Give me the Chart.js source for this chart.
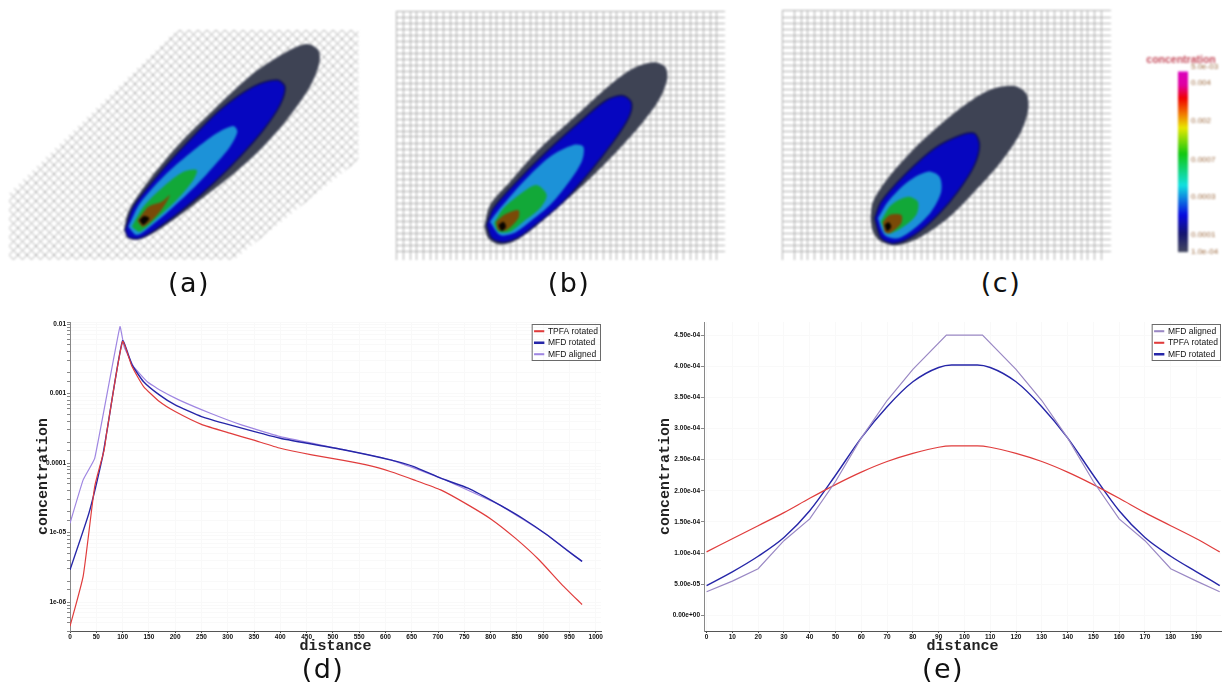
<!DOCTYPE html>
<html>
<head>
<meta charset="utf-8">
<title>concentration</title>
<script src="https://cdn.jsdelivr.net/npm/chart.js@4/dist/chart.umd.js"></script>
<style>
  html, body { margin: 0; background: #fff; overflow: hidden; }
  canvas { position: absolute; filter: blur(1px); }
  #lineD, #lineE { filter: blur(0.55px); }
  .cap { position: absolute; width: 80px; text-align: center; font: 27px "DejaVu Sans", sans-serif; letter-spacing: 1.5px; color: #111; }
</style>
</head>
<body>
<canvas id="plumeA" width="380" height="240" style="left:0;top:30px"></canvas>
<canvas id="plumeB" width="329" height="249" style="left:396px;top:11px"></canvas>
<canvas id="plumeC" width="329" height="250" style="left:782px;top:10px"></canvas>
<canvas id="colorBar" width="82" height="210" style="left:1140px;top:50px"></canvas>
<canvas id="lineD" width="610" height="345" style="left:0;top:310px"></canvas>
<canvas id="lineE" width="612" height="345" style="left:610px;top:310px"></canvas>
<div class="cap" style="left:149px;top:267px">(a)</div>
<div class="cap" style="left:529px;top:267px">(b)</div>
<div class="cap" style="left:961px;top:267px">(c)</div>
<div class="cap" style="left:283px;top:653px">(d)</div>
<div class="cap" style="left:903px;top:653px">(e)</div>
<script>
// panel (d), distance along the plume axis
const distD = [0, 25, 47, 65, 70, 100, 118, 140, 170, 200, 250, 304, 348, 400, 460, 520, 572, 609, 654, 705, 757, 803, 847, 892, 936, 974];
const tpfaD = [4.47e-7, 2.34e-6, 4.6e-5, 1.55e-4, 2.8e-4, 5.6e-3, 2.44e-3, 1.26e-3, 7.66e-4, 5.5e-4, 3.6e-4, 2.69e-4, 2.15e-4, 1.63e-4, 1.31e-4, 1.09e-4, 9.1e-5, 7.55e-5, 5.73e-5, 4.11e-5, 2.5e-5, 1.52e-5, 8.3e-6, 4.06e-6, 1.77e-6, 9.2e-7];
const rotDistD = [0, 36, 62, 70, 100, 118, 140, 170, 200, 250, 304, 400, 520, 609, 654, 705, 757, 817, 862, 907, 944, 974];
const rotatedD = [2.9e-6, 1.9e-5, 1.24e-4, 2.8e-4, 5.75e-3, 2.58e-3, 1.48e-3, 9.55e-4, 6.85e-4, 4.66e-4, 3.54e-4, 2.27e-4, 1.55e-4, 1.11e-4, 8.9e-5, 6.05e-5, 4.35e-5, 2.5e-5, 1.58e-5, 9.3e-6, 5.65e-6, 3.84e-6];
const alignDistD = [0, 25, 47, 95, 103, 121, 147, 170, 207, 267, 326, 400, 520, 609, 705, 817, 907, 974];
const alignedD = [1.36e-5, 5.73e-5, 1.17e-4, 9.2e-3, 4.7e-3, 2.44e-3, 1.48e-3, 1.13e-3, 8.1e-4, 5.2e-4, 3.54e-4, 2.4e-4, 1.56e-4, 1.12e-4, 6.1e-5, 2.5e-5, 9.3e-6, 3.84e-6];
const xTicksD = [0, 50, 100, 150, 200, 250, 300, 350, 400, 450, 500, 550, 600, 650, 700, 750, 800, 850, 900, 950, 1000];
const yLabelsD = { 1e-2: "0.01", 1e-3: "0.001", 1e-4: "0.0001", 1e-5: "1e-05", 1e-6: "1e-06" };

// panel (e), distance across the plume
const distE = [0, 10, 20, 30, 40, 50, 60, 70, 80, 90, 95, 105, 110, 120, 130, 140, 150, 160, 170, 180, 190, 199];
const tpfaE = [1.02e-4, 1.23e-4, 1.44e-4, 1.65e-4, 1.88e-4, 2.1e-4, 2.3e-4, 2.47e-4, 2.6e-4, 2.7e-4, 2.72e-4, 2.72e-4, 2.7e-4, 2.6e-4, 2.47e-4, 2.3e-4, 2.1e-4, 1.88e-4, 1.65e-4, 1.44e-4, 1.23e-4, 1.02e-4];
const rotatedE = [4.8e-5, 7.0e-5, 9.5e-5, 1.25e-4, 1.68e-4, 2.25e-4, 2.85e-4, 3.35e-4, 3.75e-4, 3.98e-4, 4.02e-4, 4.02e-4, 3.98e-4, 3.75e-4, 3.35e-4, 2.85e-4, 2.25e-4, 1.68e-4, 1.25e-4, 9.5e-5, 7.0e-5, 4.8e-5];
const alignDistE = [0, 10, 20, 30, 40, 50, 60, 70, 80, 93, 107, 120, 130, 140, 150, 160, 170, 180, 190, 199];
const alignedE = [3.8e-5, 5.5e-5, 7.5e-5, 1.2e-4, 1.55e-4, 2.15e-4, 2.85e-4, 3.45e-4, 3.95e-4, 4.5e-4, 4.5e-4, 3.95e-4, 3.45e-4, 2.85e-4, 2.15e-4, 1.55e-4, 1.2e-4, 7.5e-5, 5.5e-5, 3.8e-5];
const xTicksE = [0, 10, 20, 30, 40, 50, 60, 70, 80, 90, 100, 110, 120, 130, 140, 150, 160, 170, 180, 190];
const yTicksE = [0, 5e-5, 1e-4, 1.5e-4, 2e-4, 2.5e-4, 3e-4, 3.5e-4, 4e-4, 4.5e-4];
const yLabelsE = ["0.00e+00", "5.00e-05", "1.00e-04", "1.50e-04", "2.00e-04", "2.50e-04", "3.00e-04", "3.50e-04", "4.00e-04", "4.50e-04"];

// colour bar
const barLevels = [0, 15, 51, 88, 123, 159, 175];
const barLabels = ["5.0e-03", "0.004", "0.002", "0.0007", "0.0003", "0.0001", "1.0e-04"];
const barStops = [0, 0.1, 0.17, 0.26, 0.33, 0.47, 0.64, 0.8, 0.9, 1];
const barColors = ["#d800c8", "#e000a0", "#f00000", "#f08000", "#e8e800", "#10c810", "#10e0e0", "#0808e0", "#141470", "#444860"];

// contour outlines, innermost first, in units of the panel's own image frame
const plumeColors = ["#080400", "#7a4a08", "#12a838", "#1c92d8", "#0606c0", "#3e4354"];
const meshA = [[28, 490], [530, 0], [1075, 0], [1075, 390], [700, 690], [28, 690]];
const coreA = [[418, 570], [432, 558], [448, 565], [430, 585]];
const hotA = [[412, 572], [445, 530], [485, 515], [510, 495], [480, 545], [430, 590]];
const greenA = [[395, 590], [430, 530], [490, 470], [550, 425], [590, 420], [580, 450], [530, 510], [470, 565], [420, 605]];
const cyanA = [[385, 590], [420, 520], [490, 440], [570, 370], [650, 310], [700, 288], [712, 305], [690, 350], [640, 410], [580, 475], [510, 540], [450, 590], [410, 615]];
const blueA = [[375, 600], [400, 530], [470, 440], [560, 340], [660, 240], [760, 170], [830, 150], [855, 170], [840, 225], [790, 300], [720, 380], [640, 460], [560, 530], [480, 590], [420, 625], [385, 622]];
const outerA = [[372, 600], [385, 545], [440, 460], [530, 350], [640, 240], [760, 130], [860, 65], [920, 42], [955, 60], [958, 100], [930, 170], [860, 270], [780, 360], [690, 440], [600, 510], [520, 570], [440, 620], [395, 628]];

const coreB = [[325, 660], [340, 650], [348, 665], [335, 678]];
const hotB = [[318, 650], [345, 628], [385, 615], [385, 640], [350, 675], [325, 675]];
const greenB = [[312, 655], [340, 610], [400, 560], [440, 540], [470, 570], [450, 610], [400, 650], [360, 680], [325, 680]];
const cyanB = [[300, 650], [330, 610], [400, 530], [480, 455], [550, 420], [580, 425], [575, 470], [530, 540], [480, 600], [420, 650], [370, 685], [330, 690]];
const blueB = [[290, 660], [310, 610], [380, 530], [470, 440], [570, 350], [650, 285], [700, 272], [725, 295], [715, 340], [670, 410], [600, 500], [520, 590], [450, 650], [390, 695], [340, 712], [305, 700]];
const outerB = [[283, 665], [300, 600], [360, 530], [450, 430], [560, 330], [660, 240], [730, 190], [790, 172], [825, 185], [832, 220], [810, 280], [760, 350], [680, 440], [590, 530], [500, 610], [430, 670], [370, 710], [325, 718], [295, 700]];

const coreC = [[330, 660], [342, 652], [350, 665], [338, 678]];
const hotC = [[325, 650], [345, 630], [380, 630], [380, 655], [345, 685], [330, 680]];
const greenC = [[318, 650], [350, 600], [400, 575], [430, 590], [425, 630], [380, 670], [340, 685]];
const cyanC = [[310, 640], [340, 590], [400, 530], [460, 500], [495, 515], [500, 560], [470, 620], [420, 670], [370, 700], [330, 690]];
const blueC = [[300, 640], [320, 590], [390, 510], [480, 430], [560, 390], [600, 385], [615, 420], [600, 480], [550, 560], [490, 630], [420, 690], [360, 715], [320, 700]];
const outerC = [[288, 640], [295, 590], [340, 520], [420, 430], [520, 340], [600, 280], [660, 250], [720, 243], [755, 265], [762, 310], [740, 380], [680, 470], [600, 560], [520, 640], [440, 695], [370, 720], [320, 710], [295, 680]];

const RED = "#e03c3c";
const BLUE = "#2626a8";
const PURPLE = "#9f86e2";
const MESH = "#adadad";

function xy(xs, ys) {
  return xs.map((x, i) => ({ x, y: ys[i] }));
}

function contour(points, color, edge) {
  const closed = points.concat([points[0]]);
  return {
    data: closed.map((p) => ({ x: p[0], y: p[1] })),
    fill: "shape",
    backgroundColor: color,
    borderColor: edge || color,
    borderWidth: edge ? 1.5 : 0,
    tension: 0.3,
    pointRadius: 0,
  };
}

function plume(id, outlines, bounds, meshStep, extra) {
  const datasets = outlines.map((o, i) => contour(o, plumeColors[i], i === 4 ? "#10105a" : null));
  new Chart(document.getElementById(id), {
    type: "line",
    data: { datasets: datasets.concat(extra || []) },
    options: {
      responsive: false,
      animation: false,
      plugins: { legend: { display: false }, tooltip: { enabled: false } },
      scales: {
        x: {
          type: "linear", min: bounds[0], max: bounds[1],
          display: !!meshStep,
          border: { display: false },
          grid: { color: MESH, drawTicks: false },
          ticks: { display: false, stepSize: meshStep ? meshStep[0] : undefined, autoSkip: false },
        },
        y: {
          type: "linear", min: bounds[2], max: bounds[3], reverse: true,
          display: !!meshStep,
          border: { display: false },
          grid: { color: MESH, drawTicks: false },
          ticks: { display: false, stepSize: meshStep ? meshStep[1] : undefined, autoSkip: false },
        },
      },
    },
  });
}

// the (a) mesh is turned 45 degrees, so it goes in as a tiled fill
const tile = document.createElement("canvas");
tile.width = 9;
tile.height = 9;
const tileCtx = tile.getContext("2d");
tileCtx.strokeStyle = MESH;
tileCtx.lineWidth = 1;
tileCtx.beginPath();
tileCtx.moveTo(0, 0);
tileCtx.lineTo(9, 9);
tileCtx.moveTo(0, 9);
tileCtx.lineTo(9, 0);
tileCtx.stroke();
const meshFill = {
  data: meshA.concat([meshA[0]]).map((p) => ({ x: p[0], y: p[1] })),
  fill: "shape",
  backgroundColor: tileCtx.createPattern(tile, "repeat"),
  borderWidth: 0,
  pointRadius: 0,
};

plume("plumeA", [coreA, hotA, greenA, cyanA, blueA, outerA], [0, 1140, 0, 720], null, [meshFill]);
plume("plumeB", [coreB, hotB, greenB, cyanB, blueB, outerB], [18, 1005, 18, 765], [20, 18]);
plume("plumeC", [coreC, hotC, greenC, cyanC, blueC, outerC], [22, 1010, 15, 765], [20, 18]);

new Chart(document.getElementById("colorBar"), {
  type: "bar",
  data: {
    labels: ["concentration"],
    datasets: [{
      data: [barLevels[barLevels.length - 1]],
      barPercentage: 1,
      categoryPercentage: 1,
      backgroundColor(c) {
        const a = c.chart.chartArea;
        if (!a) return "#000";
        const g = c.chart.ctx.createLinearGradient(0, a.top, 0, a.bottom);
        barStops.forEach((s, i) => g.addColorStop(s, barColors[i]));
        return g;
      },
    }],
  },
  options: {
    responsive: false,
    animation: false,
    plugins: {
      legend: { display: false },
      tooltip: { enabled: false },
      title: {
        display: true,
        text: "concentration",
        color: "#c44a5a",
        font: { family: "Liberation Sans", size: 10.5, weight: "bold" },
        padding: { top: 4, bottom: 0 },
      },
    },
    scales: {
      x: { display: false },
      // empty axis, only there to push the bar to the right
      spacer: {
        position: "left",
        afterFit(s) { s.width = 38; },
        border: { display: false },
        grid: { display: false },
        ticks: { display: false },
      },
      y: {
        position: "right",
        reverse: true,
        min: 0,
        max: 175,
        border: { display: false },
        grid: { display: false, drawTicks: false },
        afterFit(s) { s.width = 34; },
        afterBuildTicks(s) { s.ticks = barLevels.map((v) => ({ value: v })); },
        ticks: {
          autoSkip: false,
          color: "#9c6a40",
          padding: 3,
          font: { family: "Liberation Sans", size: 8 },
          callback: (v) => barLabels[barLevels.indexOf(v)],
        },
      },
    },
  },
});

// moves the legend into the top right corner of the plot and draws its frame
const legendCorner = {
  id: "legendCorner",
  afterLayout(chart) {
    const l = chart.legend;
    l.left = chart.chartArea.right - l.width + 7;
    l.top = chart.chartArea.top + 2;
  },
  beforeDatasetsDraw(chart) {
    const l = chart.legend;
    const ctx = chart.ctx;
    ctx.save();
    ctx.strokeStyle = "#6a6a6a";
    ctx.lineWidth = 1;
    ctx.strokeRect(l.left + 0.5, l.top + 0.5, chart.chartArea.right - l.left - 1, 36);
    ctx.restore();
  },
};

function lineSet(label, pts, color, width, curve) {
  return {
    label,
    data: pts,
    borderColor: color,
    backgroundColor: color,
    borderWidth: width,
    pointRadius: 0,
    cubicInterpolationMode: curve === "monotone" ? "monotone" : "default",
    tension: curve === "monotone" ? 0 : curve,
  };
}

const titleFont = { family: "Liberation Mono", size: 15, weight: "bold" };
const tickFont = { family: "Liberation Sans", size: 6.5, weight: "bold" };
const legendOpts = {
  position: "chartArea",
  align: "start",
  labels: { boxWidth: 9, boxHeight: 1, padding: 3, color: "#111", font: { family: "Liberation Sans", size: 8.5 } },
};

new Chart(document.getElementById("lineD"), {
  type: "line",
  data: {
    datasets: [
      lineSet("TPFA rotated", xy(distD, tpfaD), RED, 1.2, 0.15),
      lineSet("MFD rotated", xy(rotDistD, rotatedD), BLUE, 1.4, 0.15),
      lineSet("MFD aligned", xy(alignDistD, alignedD), PURPLE, 1.2, 0.1),
    ],
  },
  plugins: [legendCorner],
  options: {
    responsive: false,
    animation: false,
    layout: { padding: { left: 34, right: 9, top: 12 } },
    plugins: { legend: legendOpts, tooltip: { enabled: false } },
    scales: {
      x: {
        type: "linear",
        min: 0,
        max: 1010,
        afterFit(s) { s.height = 24; },
        afterBuildTicks(s) { s.ticks = xTicksD.map((v) => ({ value: v })); },
        border: { color: "#555" },
        grid: { color: "#f9f9f9", tickColor: "#444", tickLength: 2 },
        ticks: { autoSkip: false, maxRotation: 0, color: "#111", font: tickFont, padding: 0, callback: (v) => String(v) },
        title: { display: true, text: "distance", color: "#222", font: titleFont, padding: 0 },
      },
      y: {
        type: "logarithmic",
        min: 3.83e-7,
        max: 0.0107,
        afterFit(s) { s.width = 36; },
        border: { color: "#888" },
        grid: { color: "#f9f9f9", tickColor: "#888", tickLength: 3 },
        ticks: {
          autoSkip: false,
          color: "#111",
          font: tickFont,
          padding: 1,
          callback: (v) => yLabelsD[v] || "",
        },
        title: { display: true, text: "concentration", color: "#222", font: titleFont, padding: 0 },
      },
    },
  },
});

new Chart(document.getElementById("lineE"), {
  type: "line",
  data: {
    datasets: [
      lineSet("MFD aligned", xy(alignDistE, alignedE), "#9a88c4", 1.2, 0),
      lineSet("TPFA rotated", xy(distE, tpfaE), RED, 1.2, "monotone"),
      lineSet("MFD rotated", xy(distE, rotatedE), BLUE, 1.4, "monotone"),
    ],
  },
  plugins: [legendCorner],
  options: {
    responsive: false,
    animation: false,
    layout: { padding: { left: 46, right: 1, top: 12 } },
    plugins: { legend: legendOpts, tooltip: { enabled: false } },
    scales: {
      x: {
        type: "linear",
        min: -1,
        max: 199.5,
        afterFit(s) { s.height = 24; },
        afterBuildTicks(s) { s.ticks = xTicksE.map((v) => ({ value: v })); },
        border: { color: "#555" },
        grid: { color: "#f9f9f9", tickColor: "#444", tickLength: 2 },
        ticks: { autoSkip: false, maxRotation: 0, color: "#111", font: tickFont, padding: 0 },
        title: { display: true, text: "distance", color: "#222", font: titleFont, padding: 0 },
      },
      y: {
        type: "linear",
        min: -2.5e-5,
        max: 4.71e-4,
        afterFit(s) { s.width = 48; },
        afterBuildTicks(s) { s.ticks = yTicksE.map((v) => ({ value: v })); },
        border: { color: "#888" },
        grid: { color: "#f9f9f9", tickColor: "#888", tickLength: 3 },
        ticks: {
          autoSkip: false,
          color: "#111",
          font: tickFont,
          padding: 1,
          callback: (v) => yLabelsE[yTicksE.indexOf(v)],
        },
        title: { display: true, text: "concentration", color: "#222", font: titleFont, padding: 0 },
      },
    },
  },
});
</script>
</body>
</html>
